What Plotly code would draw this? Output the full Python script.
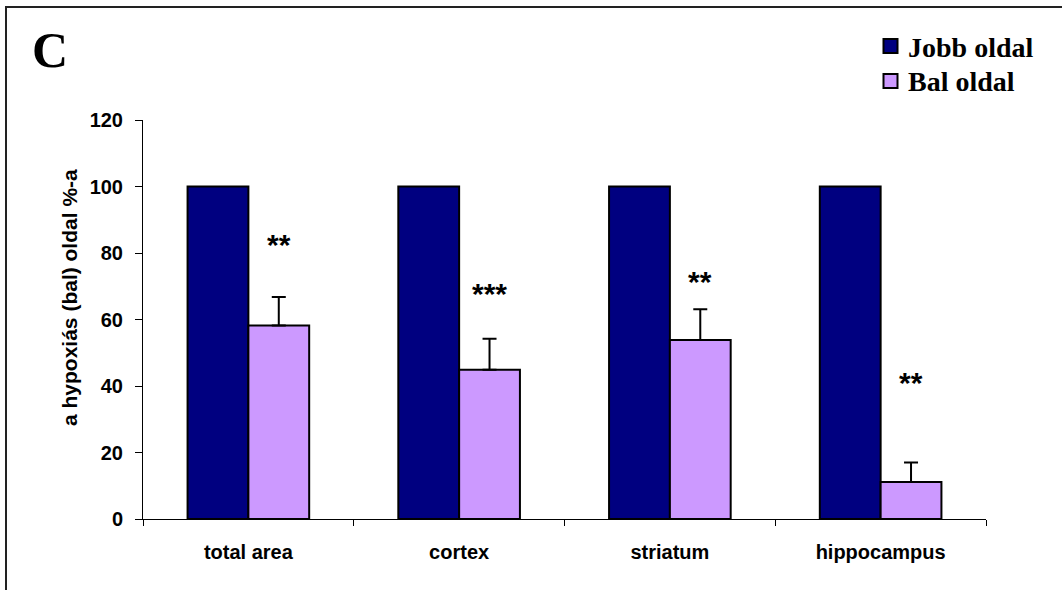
import plotly.graph_objects as go

# Regions measured and group means (% of the right side)
regions = ["total area", "cortex", "striatum", "hippocampus"]
jobb_oldal = [100, 100, 100, 100]
bal_oldal = [58.2, 44.9, 53.8, 11.1]
bal_sem = [8.6, 9.3, 9.3, 5.9]
stars = ["**", "***", "**", "**"]
star_y = [82.6, 67.8, 71.4, 41.1]
series_names = ["Jobb oldal", "Bal oldal"]
series_colors = ["#000080", "#CC99FF"]

W, H = 1062, 590
L, R, T, B = 143, 76, 120, 71
pw, ph = W - L - R, H - T - B


def px_x(x):
    return (x - L) / pw


def px_y(y):
    return 1 - (y - T) / ph


SANS = "Liberation Sans, Arial, sans-serif"
SERIF = "Liberation Serif, Times New Roman, serif"
AXIS_FONT = dict(family=SANS, size=20, color="black")

fig = go.Figure()
fig.add_trace(go.Bar(
    name=series_names[0], x=regions, y=jobb_oldal,
    marker=dict(color=series_colors[0], line=dict(color="black", width=2)),
))
fig.add_trace(go.Bar(
    name=series_names[1], x=regions, y=bal_oldal,
    marker=dict(color=series_colors[1], line=dict(color="black", width=2)),
    error_y=dict(type="data", array=bal_sem, arrayminus=[0] * len(bal_sem),
                 symmetric=False, color="black", thickness=2, width=7),
))

bar_w = 0.2885
for i, (s, yv) in enumerate(zip(stars, star_y)):
    fig.add_annotation(x=i + bar_w / 2, y=yv, xref="x", yref="y", text=f"<b>{s}</b>",
                       showarrow=False, xanchor="center", yanchor="middle",
                       font=dict(family=SANS, size=30, color="black"))

# Panel letter
fig.add_annotation(x=px_x(50), y=px_y(50), xref="paper", yref="paper", text="<b>C</b>",
                   showarrow=False, xanchor="center", yanchor="middle",
                   font=dict(family=SERIF, size=50, color="black"))

# Y-axis title
fig.add_annotation(x=px_x(69), y=px_y(298), xref="paper", yref="paper",
                   text="<b>a hypoxiás (bal) oldal %-a</b>", textangle=-90,
                   showarrow=False, xanchor="center", yanchor="middle",
                   font=dict(family=SANS, size=21, color="black"))

# Key: swatches and labels in the top-right corner
for k, (name, col) in enumerate(zip(series_names, series_colors)):
    cy = 46 + 35 * k
    fig.add_shape(type="rect", xref="paper", yref="paper",
                  x0=px_x(883.5), x1=px_x(897.5), y0=px_y(cy - 7), y1=px_y(cy + 7),
                  line=dict(color="black", width=2), fillcolor=col)
    fig.add_annotation(x=px_x(906), y=px_y(cy + 1), xref="paper", yref="paper",
                       text=f"<b>{name}</b>", showarrow=False,
                       xanchor="left", yanchor="middle",
                       font=dict(family=SERIF, size=28, color="black"))

# Frame around the panel
fig.add_shape(type="rect", xref="paper", yref="paper",
              x0=px_x(6), x1=px_x(1080), y0=px_y(7), y1=px_y(620),
              line=dict(color="#222222", width=2), fillcolor="rgba(0,0,0,0)", layer="above")

fig.update_layout(
    width=W, height=H,
    margin=dict(l=L, r=R, t=T, b=B),
    paper_bgcolor="white", plot_bgcolor="white",
    barmode="group", bargap=0.423, bargroupgap=0,
    showlegend=False,
    xaxis=dict(showline=True, linecolor="black", linewidth=1, ticks="outside",
               tickson="boundaries", ticklen=6, tickcolor="black", tickfont=AXIS_FONT,
               tickprefix="<b>", ticksuffix="</b>", ticklabelstandoff=15,
               showgrid=False, zeroline=False),
    yaxis=dict(range=[0, 120], dtick=20, showline=True, linecolor="black", linewidth=1,
               ticks="outside", ticklen=7, tickcolor="black", tickfont=AXIS_FONT,
               tickprefix="<b>", ticksuffix="</b>", ticklabelstandoff=8,
               showgrid=False, zeroline=False),
)

fig.write_html("out.html")
